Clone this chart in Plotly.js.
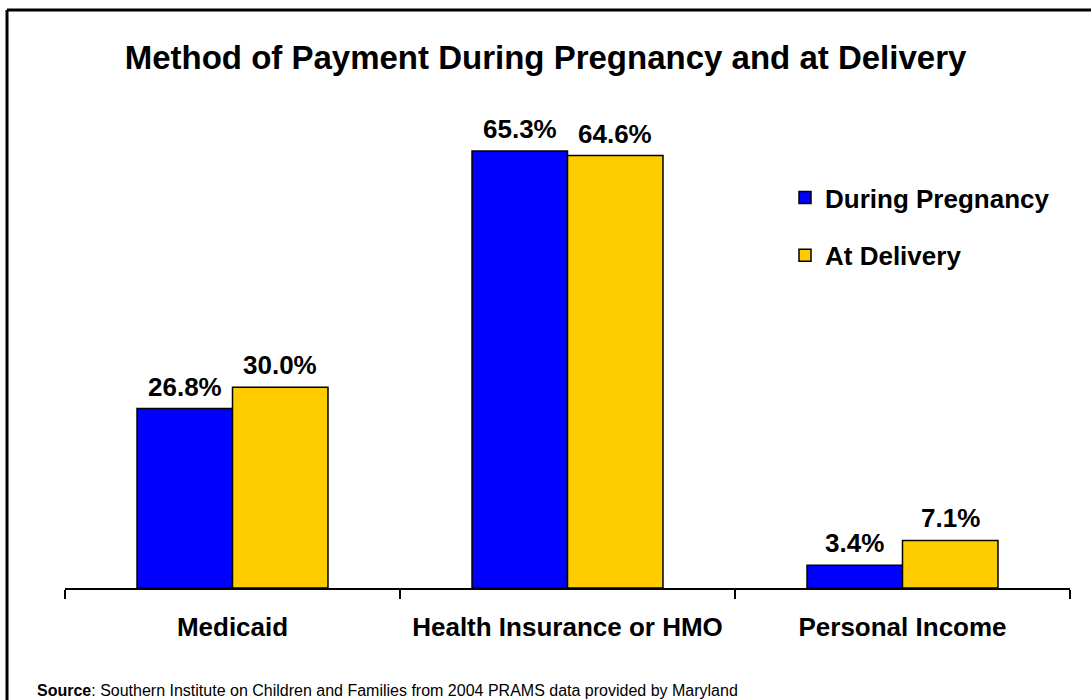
<!DOCTYPE html>
<html>
<head>
<meta charset="utf-8">
<script src="https://cdn.plot.ly/plotly-3.0.1.min.js"></script>
<style>html,body{margin:0;padding:0;background:#fff;}#chart{width:1091px;height:700px;}</style>
</head>
<body>
<div id="chart"></div>
<script>
const categories = ["Medicaid", "Health Insurance or HMO", "Personal Income"];
const duringPregnancy = [26.8, 65.3, 3.4];
const atDelivery = [30.0, 64.6, 7.1];
const seriesNames = ["During Pregnancy", "At Delivery"];
const titleText = "Method of Payment During Pregnancy and at Delivery";
const sourceText = "<b>Source</b>: Southern Institute on Children and Families from 2004 PRAMS data provided by Maryland";

const FONT = "Liberation Sans, Arial, sans-serif";
const fmt = v => v.toFixed(1) + "%";

const BARGAP = 0.43;
const halfOffset = (1 - BARGAP) / 4; // centre of each bar within a group, in category units

const traces = [
  {
    type: "bar", name: seriesNames[0], x: categories, y: duringPregnancy,
    marker: {color: "#0000FF", line: {color: "#000", width: 1.5}},
    legendgroup: "a", hoverinfo: "skip"
  },
  {
    type: "bar", name: seriesNames[1], x: categories, y: atDelivery,
    marker: {color: "#FFCC00", line: {color: "#000", width: 1.5}},
    legendgroup: "b", hoverinfo: "skip"
  }
];

const L = 65, R = 21, T = 86, B = 112, W = 1091, H = 700;
const pw = W - L - R, ph = H - T - B;
const px = x => (x - L) / pw;
const py = y => (H - B - y) / ph;

const labelFont = {family: FONT, size: 26, weight: "bold", color: "#000"};
const valueAnnotations = [];
[[duringPregnancy, -1], [atDelivery, 1]].forEach(([vals, side]) => {
  vals.forEach((v, i) => {
    valueAnnotations.push({
      text: fmt(v), xref: "x", yref: "y", x: i + side * halfOffset, y: v,
      xanchor: "center", yanchor: "bottom", yshift: 5, showarrow: false, font: labelFont
    });
  });
});

const layout = {
  width: W, height: H,
  margin: {l: L, r: R, t: T, b: B, pad: 0},
  paper_bgcolor: "#fff", plot_bgcolor: "#fff",
  font: {family: FONT, color: "#000"},
  title: {
    text: titleText, font: {family: FONT, size: 33, weight: "bold", color: "#000"},
    x: 0.5, xref: "container", xanchor: "center",
    y: 1 - 57 / H, yref: "container", yanchor: "middle"
  },
  barmode: "group", bargap: BARGAP, bargroupgap: 0,
  xaxis: {
    type: "category", showline: true, linecolor: "#000", linewidth: 2,
    ticks: "outside", tickson: "boundaries", ticklen: 9, tickwidth: 2, tickcolor: "#000",
    tickfont: {family: FONT, size: 26, weight: "bold", color: "#000"},
    ticklabelstandoff: 15, showgrid: false, zeroline: false, fixedrange: true
  },
  yaxis: {
    range: [0, 75], visible: false, showgrid: false, zeroline: false, fixedrange: true
  },
  showlegend: true,
  legend: {
    x: px(785), y: py(174), xanchor: "left", yanchor: "top",
    font: {family: FONT, size: 26, weight: "bold", color: "#000"},
    tracegroupgap: 21, bgcolor: "rgba(0,0,0,0)", itemclick: false, itemdoubleclick: false
  },
  annotations: valueAnnotations.concat([
    {
      text: sourceText, xref: "paper", yref: "paper",
      x: px(35), y: py(690), xanchor: "left", yanchor: "middle", showarrow: false,
      font: {family: FONT, size: 16, color: "#000"}
    }
  ]),
  shapes: [
    {type: "line", xref: "paper", yref: "paper", x0: px(7), x1: px(7), y0: py(720), y1: py(10),
     line: {color: "#000", width: 3}},
    {type: "line", xref: "paper", yref: "paper", x0: px(7), x1: px(1110), y0: py(10), y1: py(10),
     line: {color: "#000", width: 3}}
  ]
};

Plotly.newPlot("chart", traces, layout, {displayModeBar: false, staticPlot: true});
</script>
</body>
</html>
